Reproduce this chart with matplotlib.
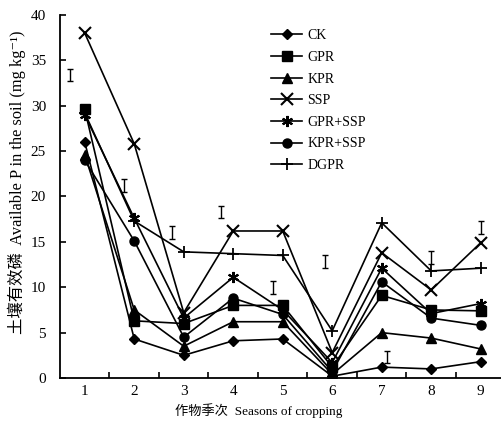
import matplotlib
matplotlib.use('Agg')
import matplotlib.pyplot as plt
from matplotlib.ticker import FixedLocator

# 作物季次
seasons = [1, 2, 3, 4, 5, 6, 7, 8, 9]

ck = [26.0, 4.3, 2.5, 4.1, 4.3, 0.2, 1.2, 1.0, 1.8]
gpr = [29.6, 6.3, 6.0, 8.0, 8.0, 1.2, 9.1, 7.5, 7.4]
kpr = [24.6, 7.5, 3.5, 6.2, 6.2, 0.4, 5.0, 4.4, 3.2]
ssp = [38.0, 25.8, 7.2, 16.2, 16.2, 2.8, 13.8, 9.7, 14.9]
gpr_ssp = [29.0, 17.6, 6.6, 11.1, 7.5, 1.7, 12.1, 7.1, 8.2]
kpr_ssp = [24.0, 15.1, 4.5, 8.8, 7.0, 0.7, 10.6, 6.6, 5.8]
dgpr = [29.2, 17.3, 13.9, 13.7, 13.5, 5.2, 17.1, 11.8, 12.1]

# LSD bars
lsd_x = [0.7, 1.8, 2.77, 3.75, 4.8, 5.85, 7.1, 8.0, 9.0]
lsd_y = [33.4, 21.2, 16.0, 18.3, 10.0, 12.8, 2.3, 13.3, 16.6]
lsd_half = 0.7

plt.rcParams['font.family'] = ['Liberation Serif', 'Noto Sans CJK SC', 'DejaVu Serif']

fig = plt.figure(figsize=(5.02, 4.30), dpi=100)
ax = fig.add_axes([60 / 502, 52 / 430, 442 / 502, 363 / 430])

kw = dict(color='black', lw=1.2, markeredgecolor='black')
ax.plot(seasons, ck, marker='D', ms=5, label='CK', **kw)
ax.plot(seasons, gpr, marker='s', ms=6.5, label='GPR', **kw)
ax.plot(seasons, kpr, marker='^', ms=6.5, label='KPR', **kw)
ax.plot(seasons, ssp, marker='x', ms=8, mew=1.5, label='SSP', **kw)
ax.plot(seasons, gpr_ssp, marker=(6, 2, 0), ms=8, mew=1.5, label='GPR+SSP', **kw)
ax.plot(seasons, kpr_ssp, marker='o', ms=6.5, label='KPR+SSP', **kw)
ax.plot(seasons, dgpr, marker='+', ms=9, mew=1.3, label='DGPR', **kw)

ax.errorbar(lsd_x, lsd_y, yerr=lsd_half, fmt='none', ecolor='black',
            elinewidth=1.0, capsize=2, capthick=1.0)

ax.set_xlim(0.5, 9.43)
ax.set_ylim(0, 40)
ax.spines['top'].set_visible(False)
ax.spines['right'].set_visible(False)
ax.spines['left'].set_linewidth(1.3)
ax.spines['bottom'].set_linewidth(1.3)

ax.set_xticks(seasons)
ax.xaxis.set_minor_locator(FixedLocator([s + 0.5 for s in seasons[:-1]]))
ax.tick_params(axis='x', which='major', length=0, labelsize=11, pad=5)
ax.tick_params(axis='x', which='minor', direction='in', length=4, width=1.2)
ax.set_yticks(range(0, 41, 5))
ax.tick_params(axis='y', direction='in', length=4, width=1.2, labelsize=11, pad=10)

ax.set_xlabel('作物季次  Seasons of cropping', fontsize=9.5)
ax.xaxis.set_label_coords(0.45, -0.07)
ax.set_ylabel('土壤有效磷  Available P in the soil (mg kg⁻¹)', fontsize=11.8)
ax.yaxis.set_label_coords(-0.078, 0.54)

ax.legend(loc='upper left', bbox_to_anchor=(0.45, 0.995), frameon=False,
          fontsize=10, handlelength=2.2, handletextpad=0.4, labelspacing=0.62)

plt.savefig('out.png', dpi=100)
